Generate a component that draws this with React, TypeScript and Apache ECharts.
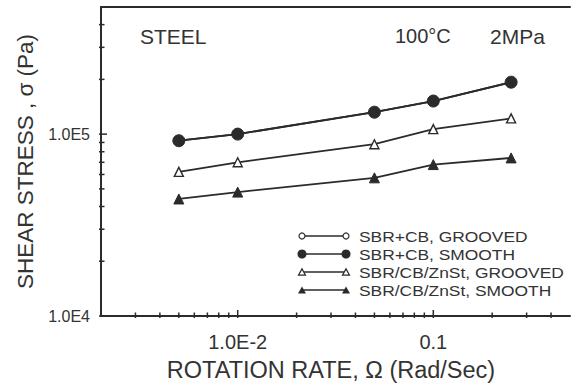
import React, { useEffect, useRef } from 'react';
import * as echarts from 'echarts';

// Rotation rate (Rad/Sec) at which shear stress was measured
const rates = [0.005, 0.01, 0.05, 0.1, 0.25];

// Shear stress (Pa) for each compound / die surface
const sbrCbGrooved = [9.2e4, 1.0e5, 1.32e5, 1.52e5, 1.93e5];
const sbrCbSmooth = [9.2e4, 1.0e5, 1.32e5, 1.52e5, 1.93e5];
const znStGrooved = [6.2e4, 7.0e4, 8.8e4, 1.065e5, 1.22e5];
const znStSmooth = [4.4e4, 4.8e4, 5.75e4, 6.8e4, 7.4e4];

const seriesNames = [
  'SBR+CB, GROOVED',
  'SBR+CB, SMOOTH',
  'SBR/CB/ZnSt, GROOVED',
  'SBR/CB/ZnSt, SMOOTH',
];

// Axis ranges and tick marks
const X_MIN = 0.002;
const X_MAX = 0.5;
const Y_MIN = 1e4;
const Y_MAX = 5e5;
const xMajorTicks = [0.01, 0.1];
const xMajorLabels = ['1.0E-2', '0.1'];
const xMinorTicks = [0.003, 0.004, 0.005, 0.006, 0.007, 0.008, 0.009, 0.02, 0.03, 0.04, 0.05, 0.06, 0.07, 0.08, 0.09, 0.2, 0.3, 0.4];
const yMajorTicks = [1e4, 1e5];
const yMajorLabels = ['1.0E4', '1.0E5'];
const yMinorTicks = [2e4, 3e4, 4e4, 5e4, 6e4, 7e4, 8e4, 9e4, 2e5, 3e5, 4e5];

const INK = '#2b2b2b';
const TEXT = '#333333';
const FONT = '"Liberation Sans", Arial, sans-serif';

function labelFor(value: number, ticks: number[], labels: string[]): string {
  for (let i = 0; i < ticks.length; i++) {
    if (Math.abs(Math.log10(value) - Math.log10(ticks[i])) < 1e-6) return labels[i];
  }
  return '';
}

function pairs(ys: number[]) {
  return rates.map((x, i) => [x, ys[i]]);
}

function triangle(cx: number, cy: number, s: number) {
  const h = s * 0.9;
  return [
    [cx, cy - h / 2],
    [cx + s / 2, cy + h / 2],
    [cx - s / 2, cy + h / 2],
  ];
}

// Legend: marker — line — marker, then the series name in a wide plotter-style face
function legendGraphic() {
  const rowsY = [236, 254, 272, 290];
  const x1 = 302;
  const x2 = 346;
  const children: any[] = [];
  rowsY.forEach((y, i) => {
    children.push({
      type: 'line',
      shape: { x1, y1: y, x2, y2: y },
      style: { stroke: INK, lineWidth: 1.3 },
    });
    [x1, x2].forEach((cx) => {
      if (i === 0) {
        children.push({ type: 'circle', shape: { cx, cy: y, r: 3 }, style: { fill: '#fff', stroke: INK, lineWidth: 1.2 } });
      } else if (i === 1) {
        children.push({ type: 'circle', shape: { cx, cy: y, r: 4.5 }, style: { fill: INK } });
      } else if (i === 2) {
        children.push({ type: 'polygon', shape: { points: triangle(cx, y, 7) }, style: { fill: '#fff', stroke: INK, lineWidth: 1.2 } });
      } else {
        children.push({ type: 'polygon', shape: { points: triangle(cx, y, 8) }, style: { fill: INK } });
      }
    });
    children.push({
      type: 'text',
      x: 359,
      y,
      scaleX: 1.16,
      style: {
        text: seriesNames[i],
        fill: TEXT,
        font: `15px ${FONT}`,
        verticalAlign: 'middle',
        align: 'left',
      },
    });
  });
  return { type: 'group', children };
}

// Short tick marks drawn across an axis line at the given data values
function tickSeries(data: number[][], horizontal: boolean) {
  return {
    type: 'custom',
    silent: true,
    clip: false,
    z: 5,
    data,
    renderItem: (_params: any, api: any) => {
      const p = api.coord([api.value(0), api.value(1)]);
      const len = api.value(2);
      return {
        type: 'line',
        shape: horizontal
          ? { x1: p[0] - 2, y1: p[1], x2: p[0] + len, y2: p[1] }
          : { x1: p[0], y1: p[1] + 2, x2: p[0], y2: p[1] - len },
        style: { stroke: INK, lineWidth: 1.5 },
      };
    },
  };
}

export default function App() {
  const ref = useRef<HTMLDivElement>(null);

  useEffect(() => {
    if (!ref.current) return;
    const chart = echarts.init(ref.current, undefined, { renderer: 'svg' });

    const xTickData = [
      ...xMajorTicks.map((v) => [v, Y_MIN, 6]),
      ...xMinorTicks.map((v) => [v, Y_MIN, 3.5]),
    ];
    const yTickData = [
      ...yMajorTicks.map((v) => [X_MIN, v, 6]),
      ...yMinorTicks.map((v) => [X_MIN, v, 3.5]),
    ];

    const lineBase = {
      type: 'line',
      lineStyle: { color: INK, width: 1.8 },
      itemStyle: { color: INK, borderColor: INK },
      z: 3,
    };

    chart.setOption({
      animation: false,
      backgroundColor: '#ffffff',
      textStyle: { fontFamily: FONT, color: TEXT },
      grid: { left: 101, top: 7, right: 2, bottom: 73, containLabel: false },
      xAxis: [
        {
          type: 'log',
          logBase: 10,
          min: X_MIN,
          max: X_MAX,
          axisLine: { lineStyle: { color: INK, width: 2 } },
          axisTick: { show: false },
          minorTick: { show: false },
          splitLine: { show: false },
          axisLabel: {
            formatter: (v: number) => labelFor(v, xMajorTicks, xMajorLabels),
            margin: 16,
            fontSize: 20,
            color: TEXT,
            fontFamily: FONT,
          },
          name: 'ROTATION RATE, Ω (Rad/Sec)',
          nameLocation: 'middle',
          nameGap: 42,
          nameTextStyle: { fontSize: 23.5, color: TEXT, fontFamily: FONT, padding: [0, 9, 0, 0] },
        },
        {
          type: 'log',
          logBase: 10,
          min: X_MIN,
          max: X_MAX,
          position: 'top',
          axisLine: { lineStyle: { color: INK, width: 2 } },
          axisTick: { show: false },
          axisLabel: { show: false },
          splitLine: { show: false },
        },
      ],
      yAxis: {
        type: 'log',
        logBase: 10,
        min: Y_MIN,
        max: Y_MAX,
        axisLine: { lineStyle: { color: INK, width: 2 } },
        axisTick: { show: false },
        minorTick: { show: false },
        splitLine: { show: false },
        axisLabel: {
          formatter: (v: number) => labelFor(v, yMajorTicks, yMajorLabels),
          margin: 11,
          fontSize: 16,
          color: TEXT,
          fontFamily: FONT,
        },
        name: 'SHEAR STRESS , σ (Pa)',
        nameLocation: 'middle',
        nameGap: 64,
        nameTextStyle: { fontSize: 22.5, color: TEXT, fontFamily: FONT },
      },
      series: [
        {
          ...lineBase,
          name: seriesNames[0],
          data: pairs(sbrCbGrooved),
          symbol: 'circle',
          symbolSize: 7,
          itemStyle: { color: '#fff', borderColor: INK, borderWidth: 1.2 },
          z: 2,
        },
        {
          ...lineBase,
          name: seriesNames[1],
          data: pairs(sbrCbSmooth),
          symbol: 'circle',
          symbolSize: 12,
        },
        {
          ...lineBase,
          name: seriesNames[2],
          data: pairs(znStGrooved),
          symbol: 'triangle',
          symbolSize: 9,
          itemStyle: { color: '#fff', borderColor: INK, borderWidth: 1.4 },
        },
        {
          ...lineBase,
          name: seriesNames[3],
          data: pairs(znStSmooth),
          symbol: 'triangle',
          symbolSize: 10,
        },
        tickSeries(xTickData, false),
        tickSeries(yTickData, true),
      ],
      graphic: [
        {
          type: 'text',
          x: 140,
          y: 36,
          style: { text: 'STEEL', fill: TEXT, font: `21px ${FONT}`, verticalAlign: 'middle' },
        },
        {
          type: 'text',
          x: 395,
          y: 36,
          style: { text: '100°C', fill: TEXT, font: `20px ${FONT}`, verticalAlign: 'middle' },
        },
        {
          type: 'text',
          x: 490,
          y: 36,
          style: { text: '2MPa', fill: TEXT, font: `21px ${FONT}`, verticalAlign: 'middle' },
        },
        legendGraphic(),
      ],
    });

    return () => chart.dispose();
  }, []);

  return (
    <div
      ref={ref}
      style={{ position: 'absolute', left: 0, top: 0, width: 573, height: 389, background: '#fff' }}
    />
  );
}
